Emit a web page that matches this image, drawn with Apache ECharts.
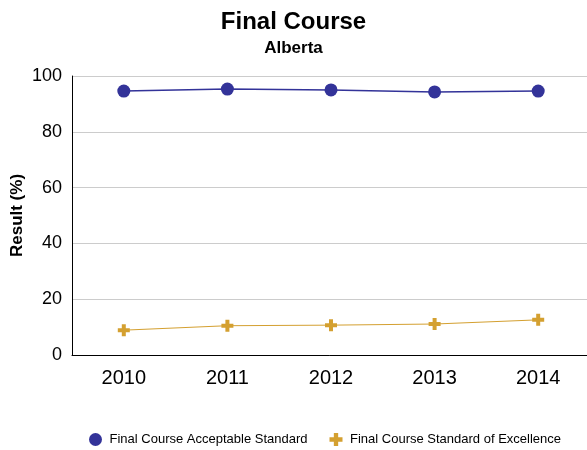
<!DOCTYPE html>
<html>
<head>
<meta charset="utf-8">
<script src="https://cdn.jsdelivr.net/npm/echarts@6/dist/echarts.min.js"></script>
<style>html,body{margin:0;padding:0;background:#fff}#c{width:587px;height:450px}</style>
</head>
<body>
<div id="c"></div>
<script>
var years = ['2010', '2011', '2012', '2013', '2014'];
var acceptable = [94.6, 95.3, 95.0, 94.3, 94.6];
var excellence = [8.9, 10.5, 10.7, 11.1, 12.6];
var yTicks = [0, 20, 40, 60, 80, 100];
var seriesNames = ['Final Course Acceptable Standard', 'Final Course Standard of Excellence'];

var FONT = 'Liberation Sans, Arial, sans-serif';
var chart = echarts.init(document.getElementById('c'), null, {renderer: 'canvas'});
var plus = 'path://M4,0H8V4H12V8H8V12H4V8H0V4H4Z';
chart.setOption({
  animation: false,
  backgroundColor: '#fff',
  title: [
    {text: 'Final Course', left: 'center', top: 5,
     textStyle: {fontFamily: FONT, fontSize: 24, fontWeight: 'bold', color: '#000'}},
    {text: 'Alberta', left: 'center', top: 35,
     textStyle: {fontFamily: FONT, fontSize: 17, fontWeight: 'bold', color: '#000'}}
  ],
  legend: {
    top: 428,
    left: 84,
    itemGap: 22,
    itemWidth: 18,
    itemHeight: 13,
    textStyle: {fontFamily: FONT, fontSize: 13, color: '#000'},
    data: [
      {name: seriesNames[0], icon: 'circle'},
      {name: seriesNames[1], icon: plus}
    ]
  },
  grid: {left: 72, right: -3, top: 76, bottom: 95, outerBoundsMode: 'none', containLabel: false},
  xAxis: {
    type: 'category',
    data: years,
    boundaryGap: true,
    axisLine: {lineStyle: {color: '#000', width: 1}},
    axisTick: {show: false},
    axisLabel: {fontFamily: FONT, fontSize: 20, color: '#000', margin: 13},
    splitLine: {show: false}
  },
  yAxis: {
    type: 'value',
    min: yTicks[0], max: yTicks[yTicks.length - 1], interval: 20,
    name: 'Result (%)',
    nameLocation: 'middle',
    nameGap: 46,
    nameMoveOverlap: false,
    nameTextStyle: {fontFamily: FONT, fontSize: 17, fontWeight: 'bold', color: '#000'},
    axisLine: {show: true, lineStyle: {color: '#000', width: 1}},
    axisTick: {show: false},
    axisLabel: {fontFamily: FONT, fontSize: 18, color: '#000', margin: 10},
    splitLine: {lineStyle: {color: '#cccccc', width: 1}}
  },
  series: [
    {name: seriesNames[0], type: 'line', data: acceptable,
     symbol: 'circle', symbolSize: 13,
     itemStyle: {color: '#333399'},
     lineStyle: {color: '#333399', width: 1.5}},
    {name: seriesNames[1], type: 'line', data: excellence,
     symbol: plus, symbolSize: 12,
     itemStyle: {color: '#D4A030'},
     lineStyle: {color: '#D4A030', width: 1}}
  ]
});
</script>
</body>
</html>
